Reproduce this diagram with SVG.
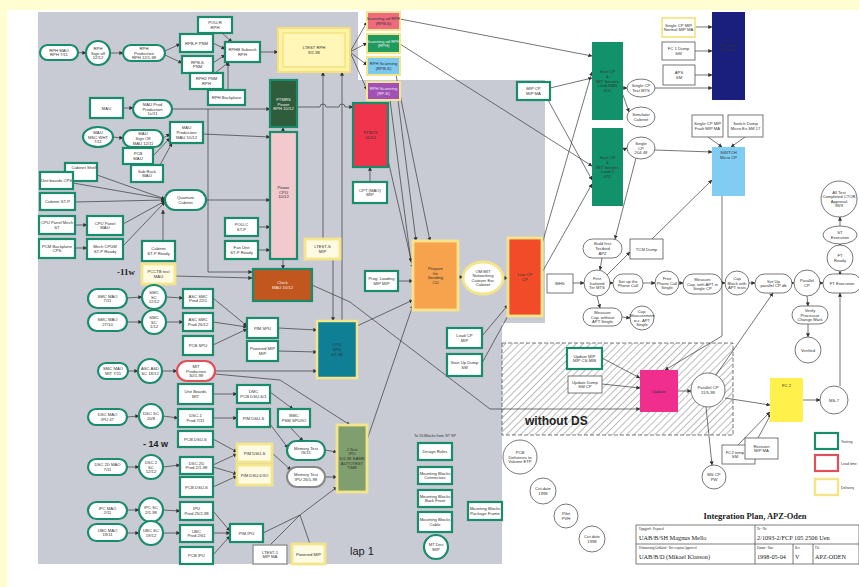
<svg xmlns="http://www.w3.org/2000/svg" width="859" height="587" viewBox="0 0 859 587">
<defs>
<marker id="a" viewBox="0 0 6 6" refX="5.5" refY="3" markerUnits="userSpaceOnUse" markerWidth="4" markerHeight="4" orient="auto"><path d="M0,0L6,3L0,6z" fill="#333"/></marker>
<pattern id="h" width="5" height="5" patternUnits="userSpaceOnUse" patternTransform="rotate(45)"><line x1="0" y1="0" x2="0" y2="5" stroke="#777" stroke-width="1"/></pattern>
</defs>
<style>
.g{fill:#fff;stroke:#1a8c6c;stroke-width:2.2}
.y{fill:#fffbe2;stroke:#f5e58a;stroke-width:2.8}
.r{fill:#fff;stroke:#e0505a;stroke-width:2.2}
.p{fill:#fff;stroke:#555;stroke-width:.8}
.t{font-family:'Liberation Sans',Arial,sans-serif;font-size:4.2px;fill:#333;text-anchor:middle}
.tw{fill:#eee}
.c{fill:none;stroke:#3a3a3a;stroke-width:.7;marker-end:url(#a)}
.n{fill:none;stroke:#3a3a3a;stroke-width:.7}
</style>
<rect width="859" height="587" fill="#fffed2"/>
<rect x="7" y="10" width="852" height="577" fill="#fff"/>
<polygon points="38,12 358,12 358,80 545,80 545,323 502,323 502,564 38,564" fill="#c8cad4"/>
<rect x="502" y="343" width="231" height="92" fill="url(#h)" stroke="#555" stroke-width=".8" stroke-dasharray="4,2"/>
<text x="525" y="425" font-family="'Liberation Sans',Arial,sans-serif" font-size="12" font-weight="bold" fill="#222">without DS</text>
<text x="117" y="275" font-family="'Liberation Serif',serif" font-size="9" font-weight="bold" fill="#222">-11w</text>
<text x="143" y="447" font-family="'Liberation Sans',Arial,sans-serif" font-size="9" font-weight="bold" fill="#222">- 14 w</text>
<text x="350" y="555" font-family="'Liberation Sans',Arial,sans-serif" font-size="11" fill="#222">lap 1</text>
<text x="414" y="437" font-family="'Liberation Sans',Arial,sans-serif" font-size="3.8" fill="#333">To 16 Blocks from ST SP</text>

<g id="connectors">
<path class="c" d="M78,52.5L86,53"/>
<path class="c" d="M110,53L123,53"/>
<path class="c" d="M165,51L180,44"/>
<path class="c" d="M165,55L182,63"/>
<path class="c" d="M213,43L225,49"/>
<path class="c" d="M213,63L225,55"/>
<path class="c" d="M215,73L229,62"/>
<path class="c" d="M222,33L232,42"/>
<path class="c" d="M228,90L228,62"/>
<path class="c" d="M260,52L278,52"/>
<path class="c" d="M350,52L367,22"/>
<path class="c" d="M350,52L367,43"/>
<path class="c" d="M350,52L367,65"/>
<path class="c" d="M350,52L367,90"/>
<path class="c" d="M400,19L592,56"/>
<path class="c" d="M400,44L592,166"/>
<path class="c" d="M396,75L430,241"/>
<path class="c" d="M390,100L411,262"/>
<path class="c" d="M398,100L416,241"/>
<path class="c" d="M388,160L413,268"/>
<path class="c" d="M398,281L413,281"/>
<path class="c" d="M370,182L370,167"/>
<path class="c" d="M172,109L270,109"/>
<path class="c" d="M297,107L320,107A3,3 0 0 1 326,107L339,107A3,3 0 0 1 345,107L353,107"/>
<path class="c" d="M323,239L323,72"/>
<path class="c" d="M333,259L333,321"/>
<path class="c" d="M342,321L342,72"/>
<path class="c" d="M283,132L283,127.5"/>
<path class="c" d="M283,259L283,269"/>
<path class="c" d="M203,134L270,137"/>
<path class="c" d="M206,200L270,200"/>
<path class="c" d="M258,227L270,227"/>
<path class="c" d="M258,250L270,250"/>
<path class="c" d="M208,109L208,272L252,272"/>
<path class="c" d="M175,276L252,278"/>
<path class="c" d="M97,175L165,199"/>
<path class="c" d="M73,183L165,199"/>
<path class="c" d="M75,202L165,200"/>
<path class="c" d="M123,224L165,201"/>
<path class="c" d="M123,246L165,202"/>
<path class="c" d="M163,241L163,210"/>
<path class="c" d="M75,225L87,225"/>
<path class="c" d="M75,248L87,248"/>
<path class="c" d="M123,108L133,108"/>
<path class="c" d="M113,137L123,138"/>
<path class="c" d="M163,138L170,134"/>
<path class="c" d="M153,156L170,138"/>
<path class="c" d="M160,165L172,143"/>
<path class="c" d="M127,298L142,297"/>
<path class="c" d="M166,297L183,298"/>
<path class="c" d="M127,322L142,322"/>
<path class="c" d="M166,322L183,322"/>
<path class="c" d="M213,298L247,326"/>
<path class="c" d="M213,322L247,327"/>
<path class="c" d="M213,345L247,329"/>
<path class="c" d="M278,328L317,330"/>
<path class="c" d="M278,351L317,352"/>
<path class="c" d="M128,371L138,371"/>
<path class="c" d="M162,371L177,371"/>
<path class="c" d="M215,371L317,371"/>
<path class="c" d="M215,374L280,380L350,425"/>
<path class="c" d="M127,417L139,416"/>
<path class="c" d="M163,416L178,418"/>
<path class="c" d="M127,467L139,467"/>
<path class="c" d="M163,467L180,465"/>
<path class="c" d="M127,510L139,510"/>
<path class="c" d="M163,510L180,511"/>
<path class="c" d="M127,533L139,533"/>
<path class="c" d="M163,533L180,533"/>
<path class="c" d="M213,394L237,394"/>
<path class="c" d="M213,418L237,418"/>
<path class="c" d="M213,439L237,452"/>
<path class="c" d="M213,465L237,454"/>
<path class="c" d="M213,467L237,474"/>
<path class="c" d="M213,487L237,476"/>
<path class="c" d="M213,511L230,531"/>
<path class="c" d="M213,533L230,533"/>
<path class="c" d="M213,555L230,536"/>
<path class="c" d="M270,392L293,409"/>
<path class="c" d="M290,427L303,441"/>
<path class="c" d="M270,424L288,448"/>
<path class="c" d="M272,453L291,470"/>
<path class="c" d="M325,450L337,452"/>
<path class="c" d="M325,477L337,477"/>
<path class="n" d="M263,533L300,515M270,545L300,515M310,544L300,515"/>
<path class="c" d="M300,515L337,487"/>
<path class="c" d="M367,440L413,305"/>
<path class="c" d="M357,326L413,300"/>
<path class="c" d="M312,285L350,302L490,409L640,409"/>
<path class="c" d="M458,277L463,277"/>
<path class="c" d="M503,278L508,278"/>
<path class="c" d="M482,336L508,305"/>
<path class="c" d="M482,363L510,312"/>
<path class="c" d="M540,251L592,72"/>
<path class="c" d="M540,276L592,184"/>
<path class="c" d="M550,88L592,78"/>
<path class="c" d="M548,100L592,180"/>
<path class="c" d="M623,88L627,88"/>
<path class="c" d="M623,95L629,112"/>
<path class="c" d="M623,150L627,148"/>
<path class="c" d="M655,88L712,88"/>
<path class="c" d="M655,150L712,152"/>
<path class="c" d="M695,27L712,27"/>
<path class="c" d="M695,51L712,51"/>
<path class="c" d="M695,75L712,75"/>
<path class="c" d="M708,137L722,147"/>
<path class="c" d="M745,137L731,147"/>
<path class="c" d="M652,239L712,180"/>
<path class="c" d="M722,196L722,336L665,370"/>
<path class="c" d="M636,158L615,239"/>
<path class="c" d="M602,258L600,270"/>
<path class="c" d="M607,275L630,252"/>
<path class="c" d="M573,283L584,283"/>
<path class="c" d="M610,283L613,283"/>
<path class="c" d="M643,283L655,283"/>
<path class="c" d="M679,283L683,283"/>
<path class="c" d="M722,283L725,283"/>
<path class="c" d="M749,283L755,283"/>
<path class="c" d="M792,283L794,283"/>
<path class="c" d="M820,283L823,283"/>
<path class="c" d="M840,274L840,271"/>
<path class="c" d="M840,246L840,244"/>
<path class="c" d="M840,226L840,217"/>
<path class="c" d="M597,296L600,308"/>
<path class="c" d="M622,317L630,318"/>
<path class="c" d="M807,296L808,306"/>
<path class="c" d="M808,324L808,337"/>
<path class="c" d="M602,358L640,378"/>
<path class="c" d="M602,384L640,388"/>
<path class="c" d="M678,391L691,391"/>
<path class="c" d="M716,375L773,293"/>
<path class="c" d="M725,398L770,405"/>
<path class="c" d="M706,407L712,465"/>
<path class="c" d="M738,445L770,412"/>
<path class="c" d="M758,438L771,414"/>
<path class="c" d="M803,400L820,400"/>
<path class="c" d="M840,386L840,293"/>
</g>

<g id="rph_mao"><rect class="g" x="40" y="45" width="38" height="15" rx="7.5"/><text class="t" x="59" y="51.7">RPH MAO<tspan x="59" dy="4.6">RPH 7/11</tspan></text></g>
<g id="rph_sign"><circle class="g" cx="98" cy="53" r="12"/><text class="t" x="98" y="49.9">RPH<tspan x="98" dy="4.6">Sign off</tspan><tspan x="98" dy="4.6">12/12</tspan></text></g>
<g id="rph_prod"><rect class="g" x="123" y="45" width="42" height="16" rx="8"/><text class="t" x="144" y="49.9">RPH<tspan x="144" dy="4.6">Production</tspan><tspan x="144" dy="4.6">RPH 12/1-98</tspan></text></g>
<g id="rpbf"><rect class="g" x="180" y="34" width="33" height="18"/><text class="t" x="196.5" y="44.5">RPB-F PNM</text></g>
<g id="rpbs"><rect class="g" x="182" y="56" width="31" height="17"/><text class="t" x="197.5" y="63.7">RPB-S<tspan x="197.5" dy="4.6">PNM</tspan></text></g>
<g id="pour"><rect class="g" x="198" y="17" width="34" height="16"/><text class="t" x="215" y="24.2">POU-R<tspan x="215" dy="4.6">RPH</tspan></text></g>
<g id="rph2"><rect class="g" x="190" y="73" width="33" height="16"/><text class="t" x="206.5" y="80.2">RPH2 PNM<tspan x="206.5" dy="4.6">RPH</tspan></text></g>
<g id="rphb"><rect class="g" x="225" y="42" width="35" height="20"/><text class="t" x="242.5" y="51.2">RPHB Subrack<tspan x="242.5" dy="4.6">RPH</tspan></text></g>
<g id="backplane"><rect class="g" x="208" y="90" width="37" height="15"/><text class="t" x="226.5" y="99">RPH Backplane</text></g>
<g id="ltest_rph"><rect x="278" y="28" width="72" height="44" fill="#fff3a6" stroke="#f6e07a" stroke-width="2"/><rect x="283" y="33" width="62" height="34" fill="#fff6b8" stroke="#f0d96c" stroke-width="1"/><text class="t" x="314" y="49.2">LTEST RPH<tspan x="314" dy="4.6">9/2-98</tspan></text></g>
<g id="scan1"><rect x="367" y="12" width="33" height="18" fill="#ee6b7d" stroke="#f5e58a" stroke-width="2"/><text class="t" x="383.5" y="20.2">Scanning ad RPH<tspan x="383.5" dy="4.6">(RPB-S)</tspan></text></g>
<g id="scan2"><rect x="367" y="34" width="33" height="19" fill="#1f9a5f" stroke="#f5e58a" stroke-width="2"/><text class="t tw" x="383.5" y="42.7">Scanning ad RPH<tspan x="383.5" dy="4.6">(RPH)</tspan></text></g>
<g id="scan3"><rect x="367" y="57" width="33" height="18" fill="#7cc8ee" stroke="#f5e58a" stroke-width="2"/><text class="t" x="383.5" y="65.2">RPH Scanning<tspan x="383.5" dy="4.6">(RPB-S)</tspan></text></g>
<g id="scan4"><rect x="367" y="82" width="33" height="18" fill="#a24fb8" stroke="#f5e58a" stroke-width="2"/><text class="t tw" x="383.5" y="90.2">RPH Scanning<tspan x="383.5" dy="4.6">(RP-E)</tspan></text></g>
<g id="ftmrs"><rect x="270" y="80" width="27" height="47" fill="#2f5c3a" stroke="#1a8c6c" stroke-width="2.2"/><text class="t tw" x="283.5" y="100.9">FTMRS<tspan x="283.5" dy="4.6">Power</tspan><tspan x="283.5" dy="4.6">RPH 10/12</tspan></text></g>
<g id="power"><rect x="270" y="132" width="27" height="127" fill="#f2c9cd" stroke="#1a8c6c" stroke-width="2.2"/><text class="t" x="283.5" y="188.9">Power<tspan x="283.5" dy="4.6">CPU</tspan><tspan x="283.5" dy="4.6">10/12</tspan></text></g>
<g id="ftbox"><rect x="353" y="103" width="35" height="64" fill="#f0344b" stroke="#1a8c6c" stroke-width="2.2"/><text class="t" x="370.5" y="134.2">FTBOX<tspan x="370.5" dy="4.6">10/12</tspan></text></g>
<g id="cpt"><rect class="g" x="353" y="182" width="34" height="21"/><text class="t" x="370" y="191.7">CPT (MAO)<tspan x="370" dy="4.6">MIP</tspan></text></g>
<g id="mau"><rect class="g" x="90" y="98" width="33" height="20"/><text class="t" x="106.5" y="109.5">MAU</text></g>
<g id="mau_prod_pill"><rect class="g" x="133" y="100" width="39" height="18" rx="9"/><text class="t" x="152.5" y="105.9">MAU Prod<tspan x="152.5" dy="4.6">Production</tspan><tspan x="152.5" dy="4.6">1s/11</tspan></text></g>
<g id="msc"><ellipse class="g" cx="98" cy="137" rx="15" ry="10"/><text class="t" x="98" y="133.9">MAU<tspan x="98" dy="4.6">MSC WHT</tspan><tspan x="98" dy="4.6">7/11</tspan></text></g>
<g id="mau_sign"><rect class="g" x="123" y="130" width="40" height="17" rx="8.5"/><text class="t" x="143" y="135.4">MAU<tspan x="143" dy="4.6">Sign Off</tspan><tspan x="143" dy="4.6">MAU 12/11</tspan></text></g>
<g id="mau_prodbox"><rect class="g" x="170" y="122" width="33" height="21"/><text class="t" x="186.5" y="129.4">MAU<tspan x="186.5" dy="4.6">Production</tspan><tspan x="186.5" dy="4.6">MAU 10/12</tspan></text></g>
<g id="pcb_mau"><rect class="g" x="123" y="148" width="30" height="16"/><text class="t" x="138" y="155.2">PCB<tspan x="138" dy="4.6">MAU</tspan></text></g>
<g id="subrack"><rect class="g" x="131" y="165" width="32" height="17"/><text class="t" x="147" y="172.7">Sub Rack<tspan x="147" dy="4.6">MAU</tspan></text></g>
<g id="cab_shelf"><rect class="g" x="65" y="163" width="32" height="18"/><text class="t" x="84" y="169">Cabinet Shelf</text></g>
<g id="unit_cps"><rect class="g" x="40" y="172" width="33" height="17"/><text class="t" x="56.5" y="182">Unit boards CPS</text></g>
<g id="cab_stp"><rect class="g" x="40" y="193" width="35" height="17"/><text class="t" x="57.5" y="203">Cabinet ST-P</text></g>
<g id="cpu_panel_mech"><rect class="g" x="39" y="216" width="36" height="18"/><text class="t" x="57" y="224.2">CPU Panel Mech<tspan x="57" dy="4.6">ST</tspan></text></g>
<g id="cpu_panel_mau"><rect class="g" x="87" y="216" width="36" height="19"/><text class="t" x="105" y="224.7">CPU Panel<tspan x="105" dy="4.6">MAU</tspan></text></g>
<g id="pcm_back"><rect class="g" x="39" y="239" width="36" height="19"/><text class="t" x="57" y="247.7">PCM Backplane<tspan x="57" dy="4.6">CPS</tspan></text></g>
<g id="mech_cpum"><rect class="g" x="87" y="239" width="36" height="20"/><text class="t" x="105" y="248.2">Mech CPUM<tspan x="105" dy="4.6">ST-P Ready</tspan></text></g>
<g id="cab_stp_ready"><rect class="g" x="142" y="241" width="33" height="20"/><text class="t" x="158.5" y="250.2">Cabinet<tspan x="158.5" dy="4.6">ST-P Ready</tspan></text></g>
<g id="quantum"><rect class="g" x="165" y="190" width="41" height="20" rx="10"/><text class="t" x="185.5" y="199.2">Quantum<tspan x="185.5" dy="4.6">Cabinet</tspan></text></g>
<g id="pcctb"><rect class="y" x="142" y="264" width="33" height="20"/><text class="t" x="158.5" y="273.2">PCCTB test<tspan x="158.5" dy="4.6">MAU</tspan></text></g>
<g id="smc_mao1"><rect class="g" x="88" y="289" width="39" height="19" rx="9.5"/><text class="t" x="107.5" y="297.7">SMC MAO<tspan x="107.5" dy="4.6">7/11</tspan></text></g>
<g id="smc_sc1"><circle class="g" cx="154" cy="297" r="12"/><text class="t" x="154" y="293.9">SMC<tspan x="154" dy="4.6">SC</tspan><tspan x="154" dy="4.6">12/12</tspan></text></g>
<g id="asc1"><rect class="g" x="183" y="289" width="30" height="19"/><text class="t" x="198" y="297.7">ASC SMC<tspan x="198" dy="4.6">Prod 22/1</tspan></text></g>
<g id="smc_mao2"><rect class="g" x="88" y="313" width="39" height="18" rx="9"/><text class="t" x="107.5" y="321.2">SMC MAO<tspan x="107.5" dy="4.6">27/10</tspan></text></g>
<g id="smc_sc2"><circle class="g" cx="154" cy="322" r="12"/><text class="t" x="154" y="318.9">SMC<tspan x="154" dy="4.6">SC</tspan><tspan x="154" dy="4.6">1/12</tspan></text></g>
<g id="asc2"><rect class="g" x="183" y="313" width="30" height="18"/><text class="t" x="198" y="321.2">ASC SMC<tspan x="198" dy="4.6">Prod 26/12</tspan></text></g>
<g id="pcb_spu"><rect class="g" x="183" y="336" width="30" height="19"/><text class="t" x="198" y="347">PCB SPU</text></g>
<g id="smc_mit"><rect class="g" x="98" y="363" width="30" height="16" rx="8"/><text class="t" x="113" y="370.2">SMC MAO<tspan x="113" dy="4.6">MIT 7/11</tspan></text></g>
<g id="asc_sc"><circle class="g" cx="150" cy="371" r="12"/><text class="t" x="150" y="370.2">ASC ASD<tspan x="150" dy="4.6">SC 18/12</tspan></text></g>
<g id="mit_prod"><rect class="r" x="177" y="361" width="38" height="20" rx="10"/><text class="t" x="196" y="367.9">MIT<tspan x="196" dy="4.6">Production</tspan><tspan x="196" dy="4.6">30/1-98</tspan></text></g>
<g id="unit_mit"><rect class="g" x="178" y="384" width="35" height="20"/><text class="t" x="195.5" y="393.2">Unit Boards<tspan x="195.5" dy="4.6">MIT</tspan></text></g>
<g id="dsc_mao"><rect class="g" x="88" y="409" width="39" height="16" rx="8"/><text class="t" x="107.5" y="416.2">DSC MAO<tspan x="107.5" dy="4.6">IPU 47</tspan></text></g>
<g id="dsc_sc"><circle class="g" cx="151" cy="416" r="12"/><text class="t" x="151" y="415.2">DSC SC<tspan x="151" dy="4.6">20/8</tspan></text></g>
<g id="dsc1"><rect class="g" x="178" y="409" width="35" height="18"/><text class="t" x="195.5" y="417.2">DSC-1<tspan x="195.5" dy="4.6">Prod 7/11</tspan></text></g>
<g id="pcb_dsu1"><rect class="g" x="178" y="431" width="35" height="16"/><text class="t" x="195.5" y="440.5">PCB DSU-S</text></g>
<g id="dsc2_mao"><rect class="g" x="88" y="459" width="39" height="16" rx="8"/><text class="t" x="107.5" y="466.2">DSC 2D MAO<tspan x="107.5" dy="4.6">7/11</tspan></text></g>
<g id="dsc2_sc"><circle class="g" cx="151" cy="467" r="12"/><text class="t" x="151" y="463.9">DSC 2<tspan x="151" dy="4.6">SC</tspan><tspan x="151" dy="4.6">12/12</tspan></text></g>
<g id="dsc2"><rect class="g" x="180" y="457" width="33" height="17"/><text class="t" x="196.5" y="464.7">DSC 2D<tspan x="196.5" dy="4.6">Prod 2/1-98</tspan></text></g>
<g id="pcb_dsu2"><rect class="g" x="180" y="477" width="33" height="20"/><text class="t" x="196.5" y="488.5">PCB DSU-S</text></g>
<g id="ipc_mao"><rect class="g" x="88" y="502" width="39" height="17" rx="8.5"/><text class="t" x="107.5" y="509.7">IPC MAO<tspan x="107.5" dy="4.6">2/11</tspan></text></g>
<g id="ipc_sc"><circle class="g" cx="151" cy="510" r="12"/><text class="t" x="151" y="509.2">IPC SC<tspan x="151" dy="4.6">2/1-98</tspan></text></g>
<g id="ipu_prod"><rect class="g" x="180" y="502" width="33" height="18"/><text class="t" x="196.5" y="510.2">IPU<tspan x="196.5" dy="4.6">Prod 25/2-98</tspan></text></g>
<g id="ubc_mao"><rect class="g" x="88" y="524" width="39" height="17" rx="8.5"/><text class="t" x="107.5" y="531.7">UBC MAO<tspan x="107.5" dy="4.6">19/11</tspan></text></g>
<g id="ubc_sc"><circle class="g" cx="151" cy="533" r="12"/><text class="t" x="151" y="532.2">UBC SC<tspan x="151" dy="4.6">19/12</tspan></text></g>
<g id="ubc_prod"><rect class="g" x="180" y="525" width="33" height="17"/><text class="t" x="196.5" y="532.7">UBC<tspan x="196.5" dy="4.6">Prod 2/61</tspan></text></g>
<g id="pcb_ipu"><rect class="g" x="180" y="547" width="33" height="17"/><text class="t" x="196.5" y="557">PCB IPU</text></g>
<g id="pou_c"><rect class="g" x="225" y="218" width="33" height="18"/><text class="t" x="241.5" y="226.2">POU-C<tspan x="241.5" dy="4.6">ST-P</tspan></text></g>
<g id="fan"><rect class="g" x="225" y="241" width="33" height="18"/><text class="t" x="241.5" y="249.2">Fan Unit<tspan x="241.5" dy="4.6">ST-P Ready</tspan></text></g>
<g id="ltest_s"><rect class="y" x="305" y="239" width="35" height="20"/><text class="t" x="322.5" y="248.2">LTEST-S<tspan x="322.5" dy="4.6">MIP</tspan></text></g>
<g id="clock"><rect x="253" y="269" width="59" height="32" fill="#c1571f" stroke="#1a8c6c" stroke-width="2.2"/><text class="t tw" x="282.5" y="284.2">Clock<tspan x="282.5" dy="4.6">MAU 10/12</tspan></text></g>
<g id="prog"><rect class="g" x="365" y="271" width="33" height="20"/><text class="t" x="381.5" y="280.2">Prog. Loading<tspan x="381.5" dy="4.6">MIP MIP</tspan></text></g>
<g id="pim_spu"><rect class="g" x="247" y="318" width="31" height="20"/><text class="t" x="262.5" y="329.5">PIM SPU</text></g>
<g id="powered_mip"><rect class="g" x="247" y="341" width="31" height="20"/><text class="t" x="262.5" y="350.2">Powered MIP<tspan x="262.5" dy="4.6">MIP</tspan></text></g>
<g id="cpu_spu"><rect x="317" y="321" width="40" height="57" fill="#0f7f96" stroke="#f5e58a" stroke-width="2.5"/><text class="t" x="337" y="346.4" fill="#9ed">CPU<tspan x="337" dy="4.6">SPU</tspan><tspan x="337" dy="4.6">4/1-98</tspan></text></g>
<g id="dmc_pcb"><rect class="g" x="237" y="385" width="33" height="18"/><text class="t" x="253.5" y="393.2">DMC<tspan x="253.5" dy="4.6">PCB DSU-S/1</tspan></text></g>
<g id="pim_dsu"><rect class="g" x="237" y="409" width="33" height="18"/><text class="t" x="253.5" y="419.5">PIM DSU-S</text></g>
<g id="bmc_psm"><rect class="g" x="278" y="409" width="32" height="18"/><text class="t" x="294" y="417.2">BMC<tspan x="294" dy="4.6">PSM SPU/IO</tspan></text></g>
<g id="pim_dsu_y"><rect class="y" x="237" y="444" width="35" height="18"/><text class="t" x="254.5" y="454.5">PIM DSU-S</text></g>
<g id="pim_dsud_y"><rect class="y" x="237" y="465" width="35" height="20"/><text class="t" x="254.5" y="476.5">PIM DSU-D/IO</text></g>
<g id="memtest1"><rect class="g" x="287" y="441" width="38" height="19" rx="9.5"/><text class="t" x="306" y="449.7">Memory Test<tspan x="306" dy="4.6">IS/11</tspan></text></g>
<g id="memtest2"><rect x="287" y="467" width="38" height="20" rx="10" fill="#fff" stroke="#888" stroke-width="2"/><text class="t" x="306" y="476.2">Memory Test<tspan x="306" dy="4.6">IPU 26/1-98</tspan></text></g>
<g id="jtest"><rect x="337" y="425" width="30" height="67" fill="#7f9f6f" stroke="#f5e58a" stroke-width="2.8"/><text class="t" x="352" y="450.8">J Test<tspan x="352" dy="4.6">IPU</tspan><tspan x="352" dy="4.6">6/1-98 SAME</tspan><tspan x="352" dy="4.6">AUTOTEST</tspan><tspan x="352" dy="4.6">TIME</tspan></text></g>
<g id="pim_ipu"><rect class="g" x="230" y="524" width="33" height="18"/><text class="t" x="246.5" y="534.5">PIM IPU</text></g>
<g id="ltest1"><rect x="253" y="545" width="34" height="19" fill="#fff" stroke="#999" stroke-width="1.5"/><text class="t" x="270" y="553.7">LTEST-1<tspan x="270" dy="4.6">MIP MA</tspan></text></g>
<g id="powered_mip2"><rect class="y" x="292" y="544" width="33" height="20"/><text class="t" x="308.5" y="555.5">Powered MIP</text></g>
<g id="design"><rect class="g" x="418" y="443" width="34" height="17"/><text class="t" x="435" y="453">Design Rules</text></g>
<g id="mb_conn"><rect class="g" x="418" y="467" width="34" height="17"/><text class="t" x="435" y="474.7">Mounting Blocks<tspan x="435" dy="4.6">Connectors</tspan></text></g>
<g id="mb_back"><rect class="g" x="418" y="490" width="34" height="17"/><text class="t" x="435" y="497.7">Mounting Blocks<tspan x="435" dy="4.6">Back Front</tspan></text></g>
<g id="mb_cable"><rect class="g" x="418" y="512" width="34" height="20"/><text class="t" x="435" y="521.2">Mounting Blocks<tspan x="435" dy="4.6">Cable</tspan></text></g>
<g id="mt_dev"><circle class="g" cx="436" cy="547" r="12"/><text class="t" x="436" y="546.2">MT Dev<tspan x="436" dy="4.6">MIP</tspan></text></g>
<g id="mb_pkg"><rect class="g" x="468" y="502" width="34" height="18"/><text class="t" x="485" y="510.2">Mounting Blocks<tspan x="485" dy="4.6">Package Frame</tspan></text></g>
<g id="prepare"><rect x="413" y="241" width="45" height="69" fill="#f7a24c" stroke="#f7e38a" stroke-width="2.8"/><text class="t" x="435.5" y="270.1">Prepare<tspan x="435.5" dy="4.6">for</tspan><tspan x="435.5" dy="4.6">Sending</tspan><tspan x="435.5" dy="4.6">CU</tspan></text></g>
<g id="om"><ellipse cx="483" cy="278" rx="20" ry="16" fill="#fff" stroke="#f5e58a" stroke-width="2.8"/><text class="t" x="483" y="272.6">OM MIT<tspan x="483" dy="4.6">Networking</tspan><tspan x="483" dy="4.6">Cutover Exc</tspan><tspan x="483" dy="4.6">Cabinet</tspan></text></g>
<g id="live"><rect x="508" y="238" width="34" height="78" fill="#f24b2a" stroke="#f5e58a" stroke-width="2.8"/><text class="t" x="525" y="276.2">Live CP<tspan x="525" dy="4.6">CP</tspan></text></g>
<g id="load"><rect class="g" x="447" y="328" width="35" height="20"/><text class="t" x="464.5" y="337.2">Load CP<tspan x="464.5" dy="4.6">MIP</tspan></text></g>
<g id="startup"><rect class="g" x="447" y="354" width="35" height="22"/><text class="t" x="464.5" y="364.2">Start Up Dump<tspan x="464.5" dy="4.6">SM</tspan></text></g>
<g id="mip_cp"><rect class="g" x="517" y="82" width="33" height="18"/><text class="t" x="533.5" y="90.2">MIP CP<tspan x="533.5" dy="4.6">MIP MA</tspan></text></g>
<g id="start1"><rect x="592" y="42" width="31" height="78" fill="#12926a"/><text class="t" x="607.5" y="73.3" fill="#cfe">Start CP<tspan x="607.5" dy="4.6">&amp;</tspan><tspan x="607.5" dy="4.6">MIT Servers</tspan><tspan x="607.5" dy="4.6">Load MBS</tspan><tspan x="607.5" dy="4.6">8/11</tspan></text></g>
<g id="start2"><rect x="592" y="128" width="31" height="78" fill="#12926a"/><text class="t" x="607.5" y="159.3" fill="#cfe">Start CP<tspan x="607.5" dy="4.6">&amp;</tspan><tspan x="607.5" dy="4.6">MIT Servers</tspan><tspan x="607.5" dy="4.6">Load 2</tspan><tspan x="607.5" dy="4.6">4/11</tspan></text></g>
<g id="e1"><ellipse class="p" cx="641" cy="88" rx="14" ry="9"/><text class="t" x="641" y="87.2">Single CP<tspan x="641" dy="4.6">Test MTS</tspan></text></g>
<g id="e2"><ellipse class="p" cx="641" cy="117" rx="14" ry="10"/><text class="t" x="641" y="116.2">Simulator<tspan x="641" dy="4.6">Cabinet</tspan></text></g>
<g id="e3"><ellipse class="p" cx="641" cy="148" rx="14" ry="11"/><text class="t" x="641" y="144.9">Single<tspan x="641" dy="4.6">CP</tspan><tspan x="641" dy="4.6">204 48</tspan></text></g>
<g id="fc1"><rect x="712" y="12" width="33" height="88" fill="#1a1f7e"/><text class="t" x="728.5" y="41.9" fill="#aab">FC 1<tspan x="728.5" dy="4.6">Function</tspan><tspan x="728.5" dy="4.6">Change</tspan></text></g>
<g id="single_norm"><rect x="662" y="18" width="33" height="19" fill="#fff" stroke="#f3e27a" stroke-width="1.6"/><text class="t" x="678.5" y="26.7">Single CP MIP<tspan x="678.5" dy="4.6">Normal MIP MA</tspan></text></g>
<g id="fc1dump"><rect class="p" x="662" y="42" width="33" height="18"/><text class="t" x="678.5" y="50.2">FC 1 Dump<tspan x="678.5" dy="4.6">SM</tspan></text></g>
<g id="aps"><rect class="p" x="663" y="65" width="32" height="20"/><text class="t" x="679" y="74.2">APS<tspan x="679" dy="4.6">SM</tspan></text></g>
<g id="single_fault"><rect class="p" x="692" y="115" width="31" height="22"/><text class="t" x="707.5" y="125.2">Single CP MIP<tspan x="707.5" dy="4.6">Fault MIP MA</tspan></text></g>
<g id="switch_dump"><rect class="p" x="728" y="115" width="35" height="22"/><text class="t" x="745.5" y="125.2">Switch Dump<tspan x="745.5" dy="4.6">Micro Ex SM 17</tspan></text></g>
<g id="switch"><rect x="712" y="147" width="33" height="49" fill="#80ccf2"/><text class="t" x="728.5" y="154.2" fill="#eef">SWITCH<tspan x="728.5" dy="4.6">Micro CP</tspan></text></g>
<g id="alltest"><circle class="p" cx="839" cy="199" r="18"/><text class="t" x="839" y="193.6">All Test<tspan x="839" dy="4.6">Completed CTOR</tspan><tspan x="839" dy="4.6">Approval</tspan><tspan x="839" dy="4.6">99/9</tspan></text></g>
<g id="st_exec"><ellipse class="p" cx="840" cy="235" rx="17" ry="9"/><text class="t" x="840" y="234.2">ST<tspan x="840" dy="4.6">Execution</tspan></text></g>
<g id="ft_ready"><circle class="p" cx="840" cy="258" r="13"/><text class="t" x="840" y="257.2">FT<tspan x="840" dy="4.6">Ready</tspan></text></g>
<g id="ft_exec"><rect class="p" x="823" y="274" width="38" height="19" rx="9.5"/><text class="t" x="842" y="285">FT Execution</text></g>
<g id="parallel"><circle class="p" cx="807" cy="283" r="13"/><text class="t" x="807" y="282.2">Parallel<tspan x="807" dy="4.6">CP</tspan></text></g>
<g id="setup_par"><rect class="p" x="755" y="274" width="37" height="19" rx="9.5"/><text class="t" x="773.5" y="282.7">Set Up<tspan x="773.5" dy="4.6">parallel CP db</tspan></text></g>
<g id="capblock"><circle class="p" cx="737" cy="283" r="12"/><text class="t" x="737" y="279.9">Cap<tspan x="737" dy="4.6">Block with</tspan><tspan x="737" dy="4.6">APT tests</tspan></text></g>
<g id="measure"><rect class="p" x="683" y="274" width="39" height="20" rx="10"/><text class="t" x="702.5" y="280.9">Measure<tspan x="702.5" dy="4.6">Cap. with APT in</tspan><tspan x="702.5" dy="4.6">Single CP</tspan></text></g>
<g id="freephone"><circle class="p" cx="667" cy="283" r="12"/><text class="t" x="667" y="279.9">Free<tspan x="667" dy="4.6">Phone Call</tspan><tspan x="667" dy="4.6">Single</tspan></text></g>
<g id="setup_phone"><rect class="p" x="613" y="274" width="30" height="19" rx="9.5"/><text class="t" x="628" y="282.7">Set up the<tspan x="628" dy="4.6">Phone Call</tspan></text></g>
<g id="first"><circle class="p" cx="597" cy="283" r="13"/><text class="t" x="597" y="279.9">First<tspan x="597" dy="4.6">Isolated</tspan><tspan x="597" dy="4.6">Ter MTS</tspan></text></g>
<g id="mhs"><rect class="p" x="547" y="274" width="26" height="19"/><text class="t" x="560" y="285">MHS</text></g>
<g id="build"><rect class="p" x="583" y="239" width="39" height="19" rx="9.5"/><text class="t" x="602.5" y="245.4">Build first<tspan x="602.5" dy="4.6">Testbed</tspan><tspan x="602.5" dy="4.6">APZ</tspan></text></g>
<g id="tcm"><rect class="p" x="630" y="239" width="33" height="20"/><text class="t" x="646.5" y="250.5">TCM Dump</text></g>
<g id="measure_wo"><rect class="p" x="583" y="308" width="39" height="18" rx="9"/><text class="t" x="602.5" y="313.9">Measure<tspan x="602.5" dy="4.6">Cap. without</tspan><tspan x="602.5" dy="4.6">APT Single</tspan></text></g>
<g id="capmeas"><circle class="p" cx="642" cy="318" r="12"/><text class="t" x="642" y="312.6">Cap.<tspan x="642" dy="4.6">Measurement</tspan><tspan x="642" dy="4.6">w.c. APT</tspan><tspan x="642" dy="4.6">Single</tspan></text></g>
<g id="verify"><rect class="p" x="792" y="306" width="36" height="18" rx="9"/><text class="t" x="810" y="311.9">Verify<tspan x="810" dy="4.6">Processor</tspan><tspan x="810" dy="4.6">Change Mark</tspan></text></g>
<g id="verified"><circle class="p" cx="808" cy="350" r="13"/><text class="t" x="808" y="351.5">Verified</text></g>
<g id="update"><rect x="640" y="370" width="38" height="42" fill="#f02e8e"/><text class="t" x="659" y="392.5">Update</text></g>
<g id="update_mip"><rect class="g" x="567" y="348" width="35" height="21"/><text class="t" x="584.5" y="357.7">Update MIP<tspan x="584.5" dy="4.6">MIP CS-MIB</tspan></text></g>
<g id="update_dump"><rect class="p" x="568" y="376" width="34" height="17"/><text class="t" x="585" y="383.7">Update Dump<tspan x="585" dy="4.6">SM CP</tspan></text></g>
<g id="par115"><circle class="p" cx="708" cy="390" r="17"/><text class="t" x="708" y="389.2">Parallel CP<tspan x="708" dy="4.6">11/5-98</tspan></text></g>
<g id="fc2"><rect x="770" y="378" width="33" height="44" fill="#fff04c"/><text class="t" x="786.5" y="387">FC 2</text></g>
<g id="ms7"><circle class="p" cx="834" cy="400" r="14"/><text class="t" x="834" y="401.5">MS-7</text></g>
<g id="fc2temp"><rect class="p" x="722" y="445" width="33" height="19"/><text class="t" x="735" y="453.7">FC2 temp<tspan x="735" dy="4.6">SM</tspan></text></g>
<g id="revision"><rect class="p" x="745" y="438" width="33" height="21"/><text class="t" x="761.5" y="447.7">Revision<tspan x="761.5" dy="4.6">MIP MA</tspan></text></g>
<g id="mscp"><circle class="p" cx="714" cy="477" r="12"/><text class="t" x="714" y="476.2">MS CP<tspan x="714" dy="4.6">PW</tspan></text></g>
<g id="pcb_del"><circle class="p" cx="520" cy="457" r="17"/><text class="t" x="520" y="453.9">PCB<tspan x="520" dy="4.6">Deliveries to</tspan><tspan x="520" dy="4.6">Volume ETP</tspan></text></g>
<g id="cutrel"><circle class="p" cx="543" cy="491" r="13"/><text class="t" x="543" y="490.2">Cut date<tspan x="543" dy="4.6">1998</tspan></text></g>
<g id="pilot"><circle class="p" cx="566" cy="516" r="12"/><text class="t" x="566" y="515.2">Pilot<tspan x="566" dy="4.6">PVH</tspan></text></g>
<g id="cutdate"><circle class="p" cx="592" cy="539" r="13"/><text class="t" x="592" y="538.2">Cut date<tspan x="592" dy="4.6">1998</tspan></text></g>

<g id="legend">
<rect x="815" y="433" width="23" height="16" fill="#fff" stroke="#1a8c6c" stroke-width="2.2"/>
<rect x="815" y="455" width="23" height="16" fill="#fff" stroke="#e0505a" stroke-width="2.2"/>
<rect x="815" y="479" width="23" height="16" fill="#fff" stroke="#f5e58a" stroke-width="2.5"/>
<text x="841" y="443" font-family="'Liberation Sans',Arial,sans-serif" font-size="3.6" fill="#333">Testing</text>
<text x="841" y="465" font-family="'Liberation Sans',Arial,sans-serif" font-size="3.6" fill="#333">Lead time</text>
<text x="841" y="489" font-family="'Liberation Sans',Arial,sans-serif" font-size="3.6" fill="#333">Delivery</text>
</g>
<g id="titleblock" font-family="'Liberation Serif',serif" fill="#222">
<text x="755" y="519" font-size="8.5" font-weight="bold" text-anchor="middle">Integration Plan, APZ-Oden</text>
<rect x="636" y="525" width="223" height="39" fill="none" stroke="#444" stroke-width=".7"/>
<path d="M636,544H859M755,525V564M793,544V564M813,544V564" stroke="#444" stroke-width=".7" fill="none"/>
<text x="639" y="529.5" font-size="3">Uppgjord - Prepared</text>
<text x="639" y="539.5" font-size="6.3">UAB/B/SH Magnus Mello</text>
<text x="757" y="529.5" font-size="3">Nr - No.</text>
<text x="757" y="539.5" font-size="6.3">2/1093-2/FCP 105 2506 Uen</text>
<text x="639" y="548.5" font-size="3">Dokansvarig/Godkänd - Doc respons/Approved</text>
<text x="639" y="558.5" font-size="6.3">UAB/B/D (Mikael Klasson)</text>
<text x="757" y="548.5" font-size="3">Datum - Date</text>
<text x="757" y="558.5" font-size="6.2">1998-05-04</text>
<text x="795" y="548.5" font-size="3">Rev</text>
<text x="795" y="558.5" font-size="6.2">V</text>
<text x="815" y="548.5" font-size="3">File</text>
<text x="815" y="558.5" font-size="6.2">APZ-ODEN</text>
</g>
</svg>
